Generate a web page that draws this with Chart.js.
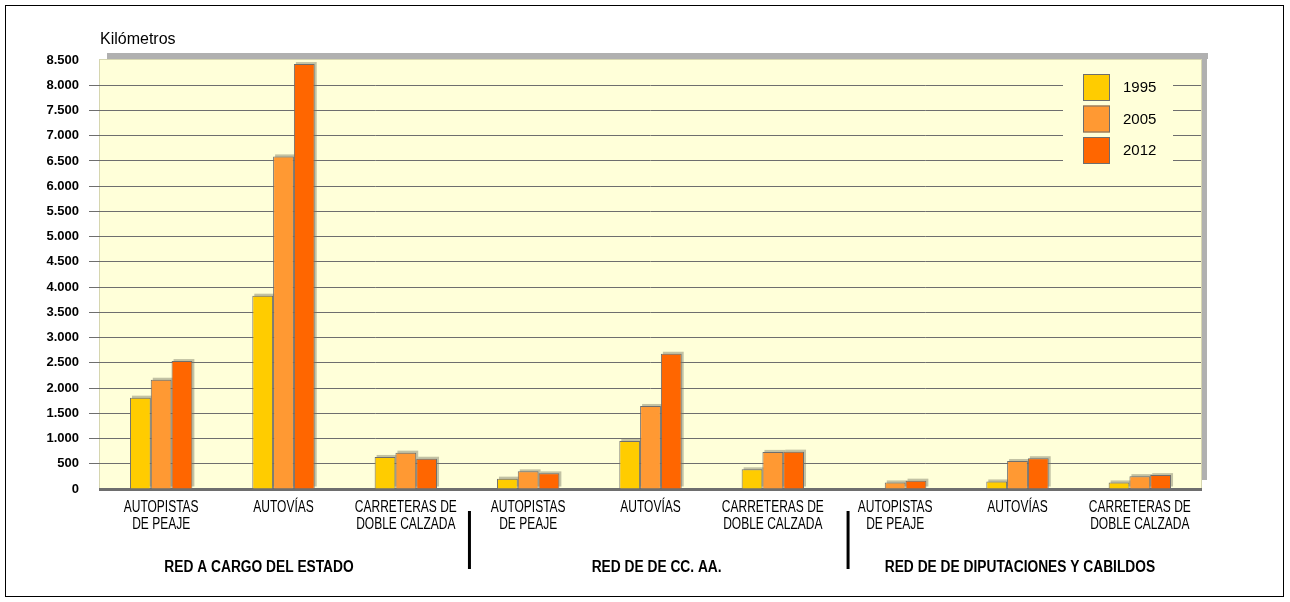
<!DOCTYPE html>
<html>
<head>
<meta charset="utf-8">
<script src="https://cdn.jsdelivr.net/npm/chart.js@4.4.1/dist/chart.umd.min.js"></script>
<style>
  html, body { margin: 0; padding: 0; background: #fff; }
  #frame { position: absolute; left: 5px; top: 5px; width: 1277px; height: 590px; border: 1px solid #000; }
  #wrap { position: absolute; left: 0; top: 0; width: 1290px; height: 602px; }
</style>
</head>
<body>
<div id="frame"></div>
<div id="wrap"><canvas id="chart" width="1290" height="602"></canvas></div>
<script>
// categories (two lines each)
var categories = [
  ['AUTOPISTAS', 'DE PEAJE'], ['AUTOVÍAS'], ['CARRETERAS DE', 'DOBLE CALZADA'],
  ['AUTOPISTAS', 'DE PEAJE'], ['AUTOVÍAS'], ['CARRETERAS DE', 'DOBLE CALZADA'],
  ['AUTOPISTAS', 'DE PEAJE'], ['AUTOVÍAS'], ['CARRETERAS DE', 'DOBLE CALZADA']
];
var years = ['1995', '2005', '2012'];
var km1995 = [1810, 3830, 635, 205, 950, 390, 0, 150, 130];
var km2005 = [2165, 6590, 720, 350, 1645, 735, 130, 555, 255];
var km2012 = [2535, 8420, 600, 310, 2680, 740, 165, 610, 275];
var yearColors = ['#FFCC00', '#FF9933', '#FF6600'];

// group titles under the axis, with their position in category units
var groupTitles = ['RED A CARGO DEL ESTADO', 'RED DE DE CC. AA.', 'RED DE DE DIPUTACIONES Y CABILDOS'];
var groupPos = [0.8, 4.05, 7.02];
var separatorPos = [2.52, 5.615];

var yTitle = 'Kilómetros';
var plotBg = '#FFFFD9';
var gridColor = '#6e6e6e';
var sansFont = '"Liberation Sans", Arial, sans-serif';

function fmtKm(v) {
  if (v < 1000) return String(v);
  var rest = String(v % 1000);
  while (rest.length < 3) rest = '0' + rest;
  return Math.floor(v / 1000) + '.' + rest;
}

// x pixel for a fractional category position
function catX(scale, f) {
  var w = (scale.right - scale.left) / categories.length;
  return scale.left + (f + 0.5) * w;
}

// narrow text: the original uses a condensed face, so squeeze it
function narrowText(ctx, txt, x, y, squeeze) {
  ctx.save();
  ctx.translate(x, y);
  ctx.scale(squeeze, 1);
  ctx.fillText(txt, 0, 0);
  ctx.restore();
}

var backdrop = {
  id: 'backdrop',
  beforeDraw: function (chart) {
    var ctx = chart.ctx, a = chart.chartArea;
    ctx.save();
    // shadow on top and right
    ctx.fillStyle = '#b0b0b0';
    ctx.fillRect(a.left + 7, a.top - 7, a.right - a.left, 6);
    ctx.fillRect(a.right + 1, a.top - 7, 5, a.bottom - a.top - 2);
    ctx.fillStyle = plotBg;
    ctx.fillRect(a.left, a.top, a.right - a.left, a.bottom - a.top);
    ctx.strokeStyle = '#d6d6b0';
    ctx.lineWidth = 1;
    ctx.strokeRect(a.left - 0.5, a.top - 0.5, a.right - a.left + 1, a.bottom - a.top);
    ctx.restore();
  },
  beforeDatasetsDraw: function (chart) {
    // soft shadow behind each bar, taken from the bar elements
    var ctx = chart.ctx;
    ctx.save();
    ctx.fillStyle = 'rgba(120,120,100,0.45)';
    chart.data.datasets.forEach(function (ds, i) {
      chart.getDatasetMeta(i).data.forEach(function (bar) {
        var p = bar.getProps(['x', 'y', 'base', 'width']);
        if (p.base - p.y < 1) return;
        ctx.fillRect(p.x - p.width / 2 + 2, p.y - 2, p.width, p.base - p.y);
      });
    });
    ctx.restore();
  },
  afterDraw: function (chart) {
    var ctx = chart.ctx, a = chart.chartArea, xs = chart.scales.x;
    ctx.save();
    // axis title
    ctx.fillStyle = '#000';
    ctx.font = '16px ' + sansFont;
    ctx.textAlign = 'left';
    ctx.textBaseline = 'middle';
    ctx.fillText(yTitle, a.left, a.top - 20);

    // legend inside the plot
    var lx = a.right - 138, ly = a.top + 6;
    ctx.fillStyle = plotBg;
    ctx.fillRect(lx, ly, 110, 100);
    for (var i = 0; i < years.length; i++) {
      var by = ly + 8 + i * 31.5;
      ctx.fillStyle = yearColors[i];
      ctx.fillRect(lx + 20, by, 27, 27);
      ctx.strokeStyle = gridColor;
      ctx.lineWidth = 1;
      ctx.strokeRect(lx + 20.5, by + 0.5, 26, 26);
      ctx.fillStyle = '#000';
      ctx.font = '15px ' + sansFont;
      ctx.textAlign = 'left';
      ctx.fillText(years[i], lx + 60, by + 14);
    }

    // category labels
    ctx.fillStyle = '#000';
    ctx.font = '16px ' + sansFont;
    ctx.textAlign = 'center';
    for (var c = 0; c < categories.length; c++) {
      var cx = xs.getPixelForValue(c);
      for (var l = 0; l < categories[c].length; l++) {
        narrowText(ctx, categories[c][l], cx, a.bottom + 19 + l * 17, 0.75);
      }
    }

    // separators between the three networks
    ctx.strokeStyle = '#000';
    ctx.lineWidth = 3;
    for (var s = 0; s < separatorPos.length; s++) {
      var sx = catX(xs, separatorPos[s]);
      ctx.beginPath();
      ctx.moveTo(sx, a.bottom + 22);
      ctx.lineTo(sx, a.bottom + 80);
      ctx.stroke();
    }

    // group titles
    ctx.font = 'bold 16px ' + sansFont;
    ctx.textAlign = 'center';
    for (var g = 0; g < groupTitles.length; g++) {
      narrowText(ctx, groupTitles[g], catX(xs, groupPos[g]), a.bottom + 79, 0.86);
    }
    ctx.restore();
  }
};

function makeSet(idx, values) {
  return {
    label: years[idx],
    data: values,
    backgroundColor: yearColors[idx],
    borderColor: gridColor,
    borderWidth: 1,
    categoryPercentage: 0.51,
    barPercentage: 1.0
  };
}

var chart = new Chart(document.getElementById('chart'), {
  type: 'bar',
  data: {
    labels: categories,
    datasets: [makeSet(0, km1995), makeSet(1, km2005), makeSet(2, km2012)]
  },
  options: {
    responsive: false,
    animation: false,
    layout: { padding: { left: 0, top: 60, right: 89, bottom: 0 } },
    plugins: {
      legend: { display: false },
      tooltip: { enabled: false }
    },
    scales: {
      x: {
        grid: { display: false, drawTicks: false },
        border: { color: gridColor, width: 3 },
        ticks: { display: false },
        afterFit: function (scale) { scale.height = 113; }
      },
      y: {
        min: 0,
        max: 8500,
        border: { display: false },
        grid: {
          color: function (c) {
            var v = c.tick ? c.tick.value : 0;
            return (v === 0 || v === 8500) ? 'rgba(0,0,0,0)' : gridColor;
          },
          tickLength: 11,
          lineWidth: 1
        },
        ticks: {
          stepSize: 500,
          padding: 10,
          color: '#000',
          font: { family: sansFont, size: 13, weight: 'bold' },
          callback: function (v) { return fmtKm(v); }
        },
        afterFit: function (scale) { scale.width = 100; }
      }
    }
  },
  plugins: [backdrop]
});
</script>
</body>
</html>
